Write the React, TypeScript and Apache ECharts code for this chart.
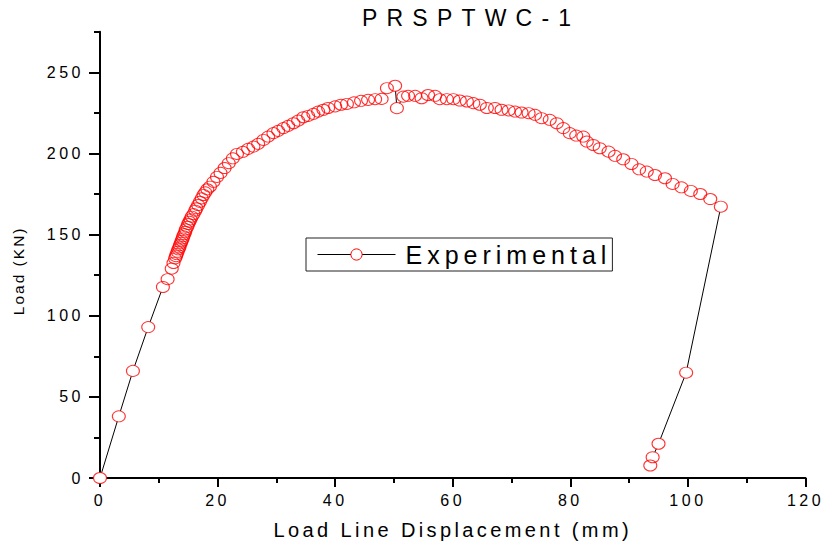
import React, { useEffect, useRef } from 'react';
import * as echarts from 'echarts';

const chartTitle = 'PRSPTWC-1';
const seriesName = 'Experimental';
const xAxisName = 'Load Line Displacement (mm)';
const yAxisName = 'Load (KN)';

const displacement = [
  0, 3.2, 5.6, 8.2, 10.7, 11.5, 12.2, 12.5, 12.76, 12.93, 13.04, 13.2, 13.33, 13.5, 13.6, 13.78,
  13.9, 14.06, 14.17, 14.34, 14.5, 14.6, 14.85, 15.0, 15.2, 15.4, 15.6, 15.9, 16.2, 16.4, 16.7,
  17.0, 17.3, 17.6, 17.9, 18.25, 18.7, 19.3, 19.9, 20.5, 21.2, 21.9, 22.6, 23.3, 24.3, 25.2, 26.1,
  26.9, 27.8, 28.6, 29.5, 30.3, 31.2, 32.0, 32.9, 33.7, 34.6, 35.4, 36.3, 37.1, 38.0, 38.8, 40.0,
  41.0, 42.0, 43.2, 44.4, 45.6, 46.8, 47.9, 48.8, 50.2, 50.5, 51.6, 52.4, 53.6, 54.7, 55.8, 57.0,
  57.8, 59.0, 60.1, 61.2, 62.4, 63.5, 64.6, 65.8, 67.2, 68.3, 69.5, 70.6, 71.7, 72.9, 74.0, 75.1,
  76.5, 77.7, 78.8, 79.9, 81.0, 82.2, 82.8, 83.9, 85.0, 86.5, 87.6, 89.0, 90.4, 91.7, 93.0, 94.4,
  96.1, 97.4, 98.9, 100.5, 102.1, 103.8, 105.6, 99.7, 95.0, 94.0, 93.6,
];

const load = [
  0, 38, 66, 93, 117.7, 122.5, 129, 132.5, 135.3, 136.7, 138, 139.4, 140.9, 142.1, 143.5, 144.9,
  146.2, 147.6, 149, 150.3, 151.7, 153.2, 154.8, 156.5, 157.9, 159.4, 161, 162.6, 164.7, 166.2, 168.2,
  170.2, 172.3, 174.4, 176, 177.9, 179.5, 182.5, 185.5, 188, 191, 194, 197, 199.7, 201, 202.8, 204.2,
  205.9, 208.3, 210.4, 212.5, 213.9, 215.6, 217, 218.6, 220.2, 222.3, 223.1, 224.4, 225.8, 226.9, 228, 229,
  230, 230.5, 231.5, 232.4, 233, 233.4, 233.6, 240.2, 241.7, 227.9, 235, 235.5, 235.5, 234, 236, 235.5,
  233.4, 233.4, 233.4, 232.6, 232, 231, 230, 228, 228, 226.9, 226.5, 225.8, 225.2, 224.8, 223.8, 221.7,
  220.7, 218.6, 215.6, 212.5, 211, 210.4, 207.3, 205.2, 203.2, 201.1, 198.5, 196.4, 193.5, 190.2, 188.8, 186.7,
  184.7, 181.2, 179.1, 176.9, 175, 171.9, 167.2, 64.9, 21.1, 12.8, 7.7,
];

const xMin = 0;
const xMax = 120;
const xInterval = 20;
const yMin = 0;
const yMax = 275;
const yMajorTicks = [0, 50, 100, 150, 200, 250];
const yMinorTicks = [25, 75, 125, 175, 225, 275];

const FONT = 'Arial, "Liberation Sans", sans-serif';

const css = `
#prs-chart text[style*="23px"] { letter-spacing: 0.4em; }
#prs-chart text[style*="25px"] { letter-spacing: 0.2em; }
#prs-chart text[style*="20px"] { letter-spacing: 0.17em; }
#prs-chart text[style*="15.5px"] { letter-spacing: 0.13em; }
#prs-chart text[style*="16px"] { letter-spacing: 0.22em; }
`;

export default function App() {
  const ref = useRef<HTMLDivElement>(null);

  useEffect(() => {
    if (!ref.current) return;
    const chart = echarts.init(ref.current, undefined, { renderer: 'svg' });
    const points = displacement.map((d, i) => [d, load[i]]);

    chart.setOption({
      animation: false,
      backgroundColor: '#ffffff',
      title: {
        text: chartTitle,
        left: 362,
        top: 6,
        padding: 0,
        textStyle: { fontFamily: FONT, fontSize: 23, fontWeight: 'normal', color: '#000' },
      },
      legend: {
        data: [seriesName],
        left: 306,
        top: 238,
        orient: 'horizontal',
        padding: [4, 61, 4, 11],
        itemWidth: 78,
        itemHeight: 14,
        borderColor: '#222',
        borderWidth: 1,
        backgroundColor: '#fff',
        selectedMode: false,
        itemStyle: { color: '#fff', borderColor: '#ff0000', borderWidth: 1 },
        lineStyle: { color: '#000', width: 1 },
        textStyle: { fontFamily: FONT, fontSize: 25, color: '#000', padding: [0, 0, 0, 5] },
      },
      grid: { left: 100, right: 17.5, top: 31.7, bottom: 68, containLabel: false },
      xAxis: {
        type: 'value',
        min: xMin,
        max: xMax,
        interval: xInterval,
        name: xAxisName,
        nameLocation: 'middle',
        nameGap: 42,
        nameTextStyle: { fontFamily: FONT, fontSize: 20, color: '#000' },
        axisLine: { show: true, onZero: false, lineStyle: { color: '#000', width: 2 } },
        axisTick: { show: true, inside: false, length: 9, lineStyle: { color: '#000', width: 2 } },
        minorTick: { show: true, splitNumber: 2, length: 5, lineStyle: { color: '#000', width: 2 } },
        axisLabel: { fontFamily: FONT, fontSize: 16, color: '#000', margin: 14 },
        splitLine: { show: false },
        minorSplitLine: { show: false },
      },
      yAxis: [
        {
          type: 'value',
          min: yMin,
          max: yMax,
          name: yAxisName,
          nameLocation: 'middle',
          nameGap: 74,
          nameRotate: 90,
          nameTextStyle: { fontFamily: FONT, fontSize: 15.5, color: '#000', padding: [0, 32, 0, 0] },
          axisLine: { show: true, onZero: false, lineStyle: { color: '#000', width: 2 } },
          axisTick: { show: true, inside: false, length: 11, customValues: yMajorTicks, lineStyle: { color: '#000', width: 2 } },
          axisLabel: { fontFamily: FONT, fontSize: 16, color: '#000', margin: 16, customValues: yMajorTicks },
          splitLine: { show: false },
        },
        {
          type: 'value',
          min: yMin,
          max: yMax,
          position: 'left',
          axisLine: { show: false },
          axisTick: { show: true, inside: false, length: 6, customValues: yMinorTicks, lineStyle: { color: '#000', width: 2 } },
          axisLabel: { show: false },
          splitLine: { show: false },
        },
      ],
      series: [
        {
          name: seriesName,
          type: 'line',
          data: points,
          yAxisIndex: 0,
          symbol: 'circle',
          symbolSize: [13, 11],
          showAllSymbol: true,
          lineStyle: { color: '#000', width: 1 },
          itemStyle: { color: '#ffffff', borderWidth: 0 },
          clip: true,
          z: 3,
        },
        {
          name: 'outline',
          type: 'scatter',
          data: points,
          yAxisIndex: 0,
          symbol: 'circle',
          symbolSize: [13, 11],
          silent: true,
          itemStyle: { color: 'rgba(0,0,0,0)', borderColor: '#ff0000', borderWidth: 1 },
          z: 4,
        },
      ],
    });

    return () => chart.dispose();
  }, []);

  return (
    <>
      <style>{css}</style>
      <div
        id="prs-chart"
        ref={ref}
        style={{ position: 'absolute', left: 0, top: 0, width: 823, height: 546 }}
      />
    </>
  );
}
